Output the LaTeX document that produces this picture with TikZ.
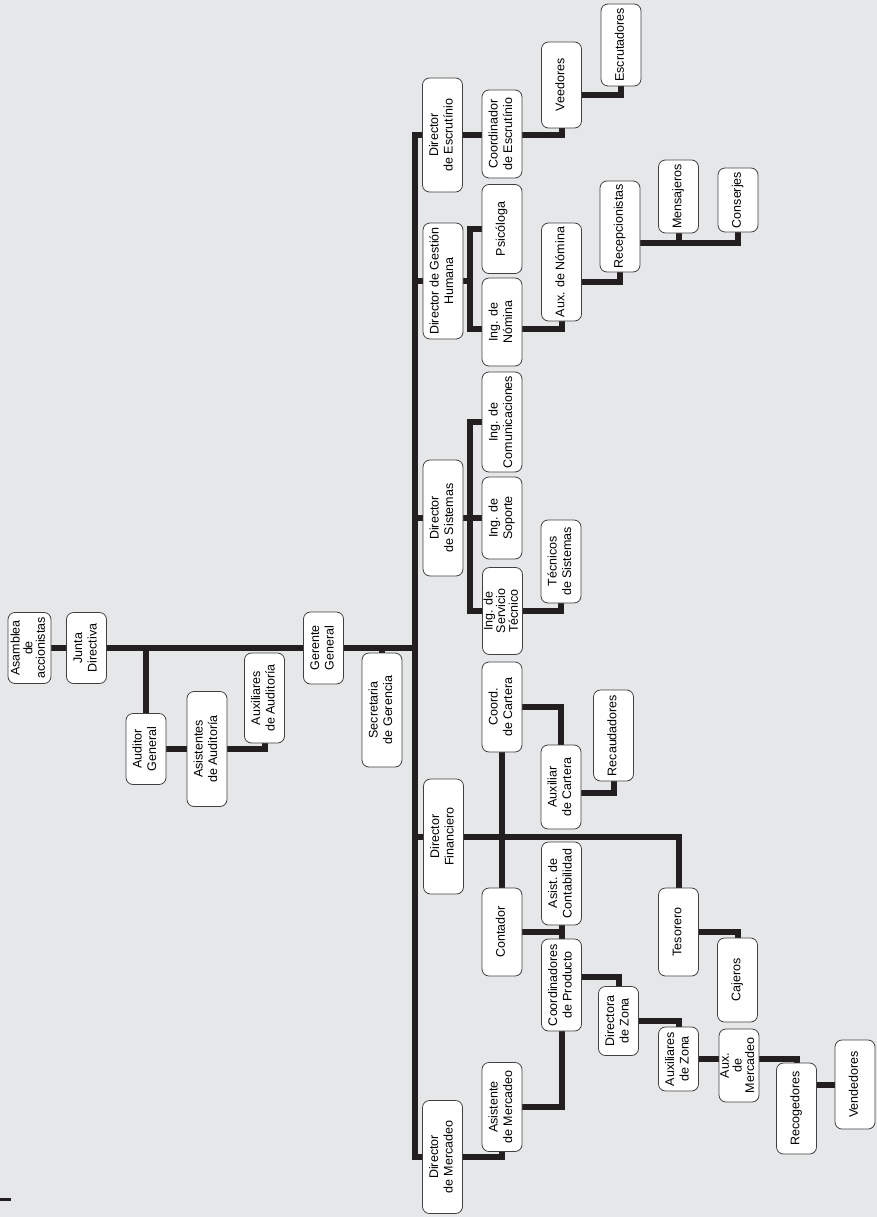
\documentclass[tikz,border=0pt]{standalone}
\usepackage{fontspec}
\setmainfont{Liberation Sans}
\usepackage{graphicx}
\usepackage{xcolor}
\usepackage{tikz}
\usetikzlibrary{calc}
\definecolor{paper}{RGB}{230,231,233}
\definecolor{ink}{RGB}{35,31,32}
\newcommand{\vlab}[1]{\rotatebox{90}{\begin{tabular}{@{}c@{}}#1\end{tabular}}}
\pgfdeclarelayer{background}
\pgfsetlayers{background,main}

\begin{document}
\begin{tikzpicture}[
   x=1pt, y=-1pt,
   box/.style = {draw=black!75, fill=white, rounded corners=7pt, line width=0.8pt,
                 minimum width=40pt, inner sep=0pt,
                 font=\fontsize{12.5}{14.3}\selectfont},
   tight/.style = {font=\fontsize{12.5}{11.7}\selectfont},
   link/.style = {draw=ink, line width=6pt}
]
% cabeza
\node[box, minimum width=43pt, minimum height=71pt, tight] (asam)  at (29.5,648)  {\vlab{Asamblea\\de\\accionistas}};
\node[box, minimum height=71pt]  (junta) at (86.5,648)  {\vlab{Junta\\Directiva}};
\node[box, minimum height=72pt]  (ger)   at (323.5,648) {\vlab{Gerente\\General}};
\node[box, minimum height=114pt] (sec)   at (382,710)   {\vlab{Secretaria\\de Gerencia}};
\node[box, minimum height=71pt]  (aud)   at (146,749)   {\vlab{Auditor\\General}};
\node[box, minimum height=115pt] (asis)  at (207,749)   {\vlab{Asistentes\\de Auditoría}};
\node[box, minimum height=90pt]  (auxa)  at (264.5,698) {\vlab{Auxiliares\\de Auditoría}};

% escrutinio
\node[box, minimum height=114pt] (desc)  at (442.5,135) {\vlab{Director\\de Escrutínio}};
\node[box, minimum height=88pt]  (cesc)  at (502,134)   {\vlab{Coordinador\\de Escrutínio}};
\node[box, minimum height=86pt]  (veed)  at (561.5,85)  {\vlab{Veedores}};
\node[box, minimum height=82pt]  (escr)  at (621,45)    {\vlab{Escrutadores}};

% gestion humana
\node[box, minimum height=116pt] (dgh)   at (443,281)   {\vlab{Director de Gestión\\Humana}};
\node[box, minimum height=89pt]  (psic)  at (502,229)   {\vlab{Psicóloga}};
\node[box, minimum height=88pt]  (nom)   at (502,322)   {\vlab{Ing. de\\Nómina}};
\node[box, minimum height=98pt]  (auxn)  at (561.5,272) {\vlab{Aux. de Nómina}};
\node[box, minimum height=91pt]  (recep) at (620,226.5) {\vlab{Recepcionistas}};
\node[box, minimum height=73pt]  (mens)  at (678.5,196.5) {\vlab{Mensajeros}};
\node[box, minimum height=64pt]  (cons)  at (738,200)   {\vlab{Conserjes}};

% sistemas
\node[box, minimum height=116pt] (ds)    at (443,518)   {\vlab{Director\\de Sistemas}};
\node[box, minimum height=100pt] (icom)  at (502,422)   {\vlab{Ing. de\\Comunicaciones}};
\node[box, minimum height=82pt]  (isop)  at (502,518)   {\vlab{Ing. de\\Soporte}};
\node[box, minimum height=87pt, tight] (iserv) at (502.5,611) {\vlab{Ing. de\\Servicio\\Técnico}};
\node[box, minimum height=83pt]  (tec)   at (561,561.5) {\vlab{Técnicos\\de Sistemas}};

% financiero
\node[box, minimum height=90pt]  (ccart) at (502,707)   {\vlab{Coord.\\de Cartera}};
\node[box, minimum height=84pt]  (auxc)  at (561,787)   {\vlab{Auxiliar\\de Cartera}};
\node[box, minimum height=91pt]  (recd)  at (613.5,735.5) {\vlab{Recaudadores}};
\node[box, minimum height=115pt] (dfin)  at (443.5,836.5) {\vlab{Director\\Financiero}};
\node[box, minimum height=83pt]  (asist) at (561.5,883.5) {\vlab{Asist. de\\Contabilidad}};
\node[box, minimum height=88pt]  (cont)  at (502,932)   {\vlab{Contador}};
\node[box, minimum height=88pt]  (teso)  at (678.5,932) {\vlab{Tesorero}};
\node[box, minimum height=84pt]  (caj)   at (737.5,980) {\vlab{Cajeros}};

% mercadeo
\node[box, minimum height=92pt]  (coordp) at (561.5,985) {\vlab{Coordinadores\\de Producto}};
\node[box, minimum height=69pt]  (dzona) at (618.5,1021) {\vlab{Directora\\de Zona}};
\node[box, minimum height=64pt]  (azona) at (678.5,1059) {\vlab{Auxiliares\\de Zona}};
\node[box, minimum height=73pt, tight] (amk) at (739,1065.5) {\vlab{Aux.\\de\\Mercadeo}};
\node[box, minimum height=91pt]  (recog) at (796.5,1108.5) {\vlab{Recogedores}};
\node[box, minimum height=89pt]  (vend)  at (855,1084.5) {\vlab{Vendedores}};
\node[box, minimum height=89pt]  (amerc) at (502,1107)  {\vlab{Asistente\\de Mercadeo}};
\node[box, minimum height=113pt] (dmerc) at (442.5,1157) {\vlab{Director\\de Mercadeo}};

\begin{pgfonlayer}{background}
\fill[paper] (0,0) rectangle (877,1217);
\fill[ink] (0,1197.5) rectangle (11,1201);

% lineas de mando
\coordinate (trunk) at (415,0);
\draw[link] (desc) -| (trunk |- dmerc) -- (dmerc);
\draw[link] (asam) -- (junta) -- (ger) -- (ger -| trunk);
\draw[link] (aud) -- (aud |- junta);
\draw[link] (aud) -- (asis) -| (auxa);
\draw[link] (sec) -- (sec |- ger);

\draw[link] (desc) -| (veed);
\draw[link] ([yshift=-10pt]veed.center) -| (escr);

\coordinate (hbar) at ($(dgh.east)!0.35!(psic.west)$);
\coordinate (nomout) at ([yshift=-7pt]nom.center);
\draw[link] (dgh) -- (dgh -| trunk);
\draw[link] (dgh) -- (dgh -| hbar);
\draw[link] (psic) -| (hbar) |- (nomout);
\draw[link] (nomout) -| (auxn);
\draw[link] ([yshift=-10pt]auxn.center) -| (recep);
\draw[link] ([yshift=-16pt]recep.center) -| (cons);
\draw[link] (mens) |- ([yshift=-16pt]recep.center);

\coordinate (sbar) at ($(ds.east)!0.35!(icom.west)$);
\draw[link] (ds) -- (ds -| trunk);
\draw[link] (ds) -- (isop);
\draw[link] (icom) -| (sbar) |- (iserv);
\draw[link] (iserv) -| (tec);

\draw[link] (dfin) -- (dfin -| trunk);
\draw[link] (dfin) -| (teso);
\draw[link] (ccart) -- (cont);
\draw[link] (ccart) -| (auxc);
\draw[link] ([yshift=-6pt]auxc.center) -| (recd);
\draw[link] (cont) -| (coordp);
\draw[link] (asist) -- (coordp);
\draw[link] (teso) -| (caj);

\draw[link] (dmerc) -| (amerc);
\draw[link] (amerc) -| (coordp);
\draw[link] ([yshift=8pt]coordp.center) -| (dzona);
\draw[link] (dzona) -| (azona);
\draw[link] (azona) -| (recog);
\draw[link] (vend) -- (vend -| recog);
\end{pgfonlayer}
\end{tikzpicture}
\end{document}
